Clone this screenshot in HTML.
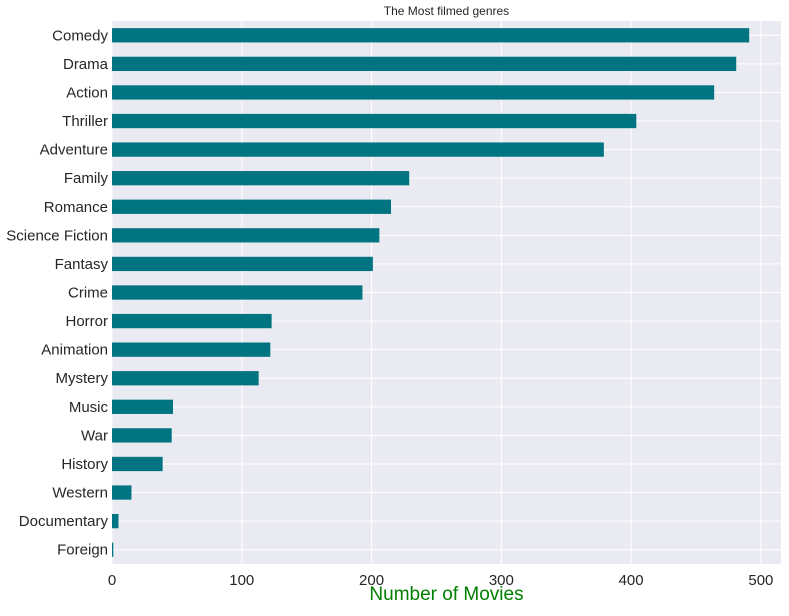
<!DOCTYPE html>
<html><head><meta charset="utf-8"><style>
body{margin:0;background:#fff;font-family:"Liberation Sans",sans-serif}
</style></head><body>
<svg id="chart" width="789" height="611" xmlns="http://www.w3.org/2000/svg" font-family="Liberation Sans, sans-serif"></svg>
<script>
const categories=["Comedy","Drama","Action","Thriller","Adventure","Family","Romance","Science Fiction","Fantasy","Crime","Horror","Animation","Mystery","Music","War","History","Western","Documentary","Foreign"];
const values=[491,481,464,404,379,229,215,206,201,193,123,122,113,47,46,39,15,5,1];
const xTicks=[0,100,200,300,400,500];
const svg=document.getElementById('chart');
const NS='http://www.w3.org/2000/svg';
const L=112,R=781,T=21,B=564;
const xMax=515.5;
const x=v=>L+v/xMax*(R-L);
const step=(B-T)/categories.length;
const y=i=>T+step*(i+0.5);
function mk(tag,attrs,parent){const e=document.createElementNS(NS,tag);for(const k in attrs)e.setAttribute(k,attrs[k]);(parent||svg).appendChild(e);return e;}
const bg=mk('rect',{x:L,y:T,width:R-L,height:B-T,fill:'#EAEAF2'});


xTicks.forEach(t=>{
  const g=mk('line',{x1:x(t),x2:x(t),y1:T,y2:B,stroke:'#fff','stroke-width':1});
  
  
  const tl=mk('text',{x:x(t),y:B+21,'text-anchor':'middle','font-size':15,fill:'#262626'});
  tl.textContent=t;
  
  
});
categories.forEach((c,i)=>{
  const g=mk('line',{x1:L,x2:R,y1:y(i),y2:y(i),stroke:'#fff','stroke-width':1});
  
  
});
categories.forEach((c,i)=>{
  const b=mk('rect',{x:L,y:y(i)-step*0.25,width:x(values[i])-L,height:step*0.5,fill:'#007480'});
  
  
  const t=mk('text',{x:L-4,y:y(i)+5,'text-anchor':'end','font-size':15,fill:'#262626'});
  t.textContent=c;
  
  
});
const title=mk('text',{x:(L+R)/2,y:15,'text-anchor':'middle','font-size':12,fill:'#262626'});
title.textContent='The Most filmed genres';


const xt=mk('text',{x:(L+R)/2,y:600,'text-anchor':'middle','font-size':19,fill:'#008000'});
xt.textContent='Number of Movies';


</script>
</body></html>
